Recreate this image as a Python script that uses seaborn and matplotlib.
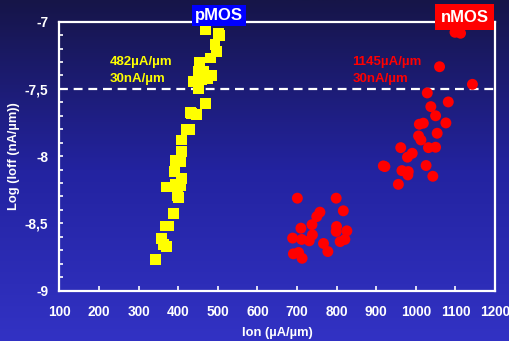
import numpy as np
import pandas as pd
import matplotlib
matplotlib.use("Agg")
import matplotlib.pyplot as plt
from matplotlib.colors import LinearSegmentedColormap
from matplotlib.ticker import MultipleLocator, FixedLocator
import seaborn as sns

# ---- data ----
pmos_ion = [470, 432, 447, 422, 430, 409, 409, 392, 405, 390, 409, 371, 392, 405, 399, 400,
            389, 375, 367, 359, 363, 371, 342,
            468, 502, 504, 493, 497, 481, 455, 451, 464, 485, 447, 438, 460, 451, 474, 434, 447]
pmos_ioff = [-7.607, -7.674, -7.694, -7.80, -7.80, -7.88, -7.967, -8.03, -8.04, -8.115, -8.17,
             -8.23, -8.21, -8.22, -8.29, -8.31, -8.43, -8.52, -8.52, -8.61, -8.66, -8.67, -8.77,
             -7.06, -7.086, -7.10, -7.17, -7.22, -7.27, -7.30, -7.37, -7.37, -7.40, -7.446,
             -7.446, -7.43, -7.495, -7.42, -7.68, -7.69]
nmos_ion = [701, 799, 817, 758, 750, 738, 710, 800, 799, 826, 739, 689, 712, 731, 809, 821,
            767, 778, 691, 704, 713,
            1060, 1143, 1029, 1082, 1038, 1050, 1076, 1009, 1019, 1054, 1007, 1013, 1032, 1050,
            962, 991, 979, 922, 1026, 965, 981, 980, 1043, 956, 918, 1099, 1113]
nmos_ioff = [-8.313, -8.313, -8.407, -8.417, -8.45, -8.51, -8.536, -8.524, -8.56, -8.556,
             -8.586, -8.61, -8.62, -8.63, -8.636, -8.62, -8.65, -8.71, -8.727, -8.717, -8.76,
             -7.335, -7.466, -7.53, -7.597, -7.632, -7.70, -7.753, -7.763, -7.755, -7.83,
             -7.85, -7.88, -7.937, -7.934, -7.937, -7.979, -8.008, -8.078, -8.07, -8.108,
             -8.115, -8.14, -8.15, -8.21, -8.073, -7.079, -7.086]
x_ticks = [100, 200, 300, 400, 500, 600, 700, 800, 900, 1000, 1100, 1200]
y_ticks = [-9, -8.5, -8, -7.5, -7]
y_tick_labels = ["-9", "-8,5", "-8", "-7,5", "-7"]
ref_level = -7.5

df = pd.DataFrame({
    "ion": pmos_ion + nmos_ion,
    "ioff": pmos_ioff + nmos_ioff,
    "type": ["pMOS"] * len(pmos_ion) + ["nMOS"] * len(nmos_ion),
})

sns.set_theme(style="white")
plt.rcParams["font.family"] = ["Liberation Sans", "DejaVu Sans"]
plt.rcParams["font.weight"] = "bold"

fig = plt.figure(figsize=(5.10, 3.41), dpi=100)

# gradient background
bg = fig.add_axes([0, 0, 1, 1], zorder=0)
cmap = LinearSegmentedColormap.from_list("bg", ["#161548", "#2323a0", "#3232c4"])
grad = np.linspace(0, 1, 256).reshape(-1, 1)
bg.imshow(grad, aspect="auto", cmap=cmap, extent=[0, 1, 0, 1], origin="upper")
bg.set_axis_off()

ax = fig.add_axes([0.1163, 0.148, 0.9706 - 0.1163, 0.9364 - 0.148], zorder=1)
ax.patch.set_alpha(0)

sub_p = df[df["type"] == "pMOS"]
sub_n = df[df["type"] == "nMOS"]
sns.scatterplot(data=sub_p, x="ion", y="ioff", ax=ax, marker="s", s=62, color="#ffff00",
                edgecolor="none", legend=False, zorder=3, clip_on=True)
sns.scatterplot(data=sub_n, x="ion", y="ioff", ax=ax, marker="o", s=62, color="#ff0000",
                edgecolor="none", legend=False, zorder=3, clip_on=True)

ax.axhline(ref_level, color="white", lw=1.6, dashes=(4, 2.6), zorder=2)

ax.set_xlim(100, 1200)
ax.set_ylim(-9, -7)
ax.xaxis.set_major_locator(FixedLocator(x_ticks))
ax.yaxis.set_major_locator(FixedLocator(y_ticks))
ax.yaxis.set_minor_locator(MultipleLocator(0.1))
ax.set_yticklabels(y_tick_labels)

for sp in ax.spines.values():
    sp.set_visible(True)
    sp.set_color("white")
    sp.set_linewidth(1.6)

ax.tick_params(axis="x", which="major", direction="in", length=3.5, width=1.2,
               color="white", labelcolor="white", labelsize=9.8, pad=10.5, bottom=True)
ax.tick_params(axis="y", which="both", direction="in", length=3, width=1.2,
               color="white", labelcolor="white", labelsize=9.8, pad=8, left=True)
for lab in ax.get_xticklabels() + ax.get_yticklabels():
    lab.set_fontweight("bold")

ax.set_xlabel("Ion (µA/µm)", color="white", fontsize=9.3, fontweight="bold", labelpad=5.5)
ax.set_ylabel("Log (Ioff (nA/µm))", color="white", fontsize=9.3, fontweight="bold", labelpad=3)

# series labels
fig.text(219 / 510, 1 - 15.5 / 341, "pMOS", color="white", fontsize=12, fontweight="bold",
         ha="center", va="center", zorder=5,
         bbox=dict(boxstyle="square,pad=0.18", fc="#0000ff", ec="none"))
fig.text(464.5 / 510, 1 - 17 / 341, "nMOS", color="white", fontsize=12, fontweight="bold",
         ha="center", va="center", zorder=5,
         bbox=dict(boxstyle="square,pad=0.33", fc="#ff0000", ec="none"))

fig.text(110 / 510, 1 - 62 / 341, "482µA/µm", color="#ffff00", fontsize=9.5,
         fontweight="bold", ha="left", va="center", zorder=5)
fig.text(110 / 510, 1 - 79 / 341, "30nA/µm", color="#ffff00", fontsize=9.5,
         fontweight="bold", ha="left", va="center", zorder=5)
fig.text(352.5 / 510, 1 - 62 / 341, "1145µA/µm", color="#ff0000", fontsize=9.5,
         fontweight="bold", ha="left", va="center", zorder=5)
fig.text(352.5 / 510, 1 - 79 / 341, "30nA/µm", color="#ff0000", fontsize=9.5,
         fontweight="bold", ha="left", va="center", zorder=5)

fig.savefig("out.png", dpi=100)
